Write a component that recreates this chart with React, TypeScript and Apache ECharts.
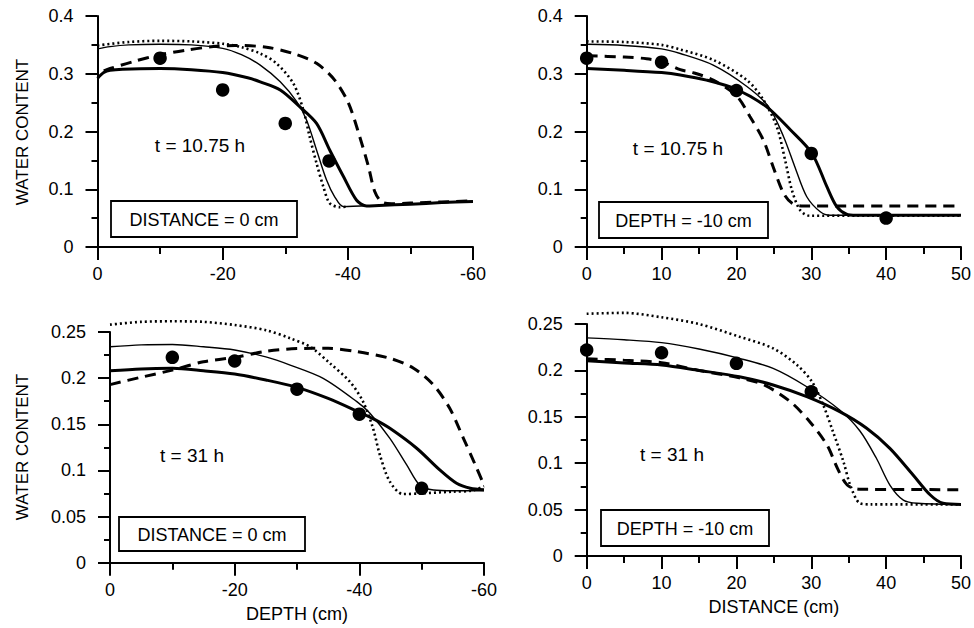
import React, { useEffect, useRef } from "react";
import * as echarts from "echarts";

// ---------- DATA ----------
// Panel 1: t = 10.75 h, DISTANCE = 0 cm (x = depth, cm)
const p1Obs = [[-10, 0.327], [-20, 0.272], [-30, 0.214], [-37, 0.149]];
const p1Thick = [[0, 0.292], [-1, 0.302], [-2, 0.306], [-4, 0.308], [-10, 0.309], [-15, 0.307], [-20, 0.302], [-24, 0.293], [-26, 0.286], [-29.2, 0.272], [-32.3, 0.243], [-35, 0.214], [-37.1, 0.168], [-39.3, 0.122], [-41.4, 0.081], [-43, 0.071], [-45, 0.072], [-50, 0.074], [-55, 0.077], [-60, 0.079]];
const p1Thin = [[0, 0.343], [-2, 0.347], [-5, 0.35], [-10, 0.351], [-15, 0.35], [-20, 0.344], [-23, 0.333], [-26, 0.315], [-29.2, 0.286], [-31.8, 0.252], [-33.4, 0.22], [-35, 0.168], [-36.6, 0.116], [-37.9, 0.087], [-39.3, 0.07], [-45, 0.072], [-50, 0.074], [-55, 0.077], [-60, 0.079]];
const p1Dotted = [[0, 0.349], [-5, 0.355], [-10, 0.357], [-15, 0.356], [-20, 0.352], [-23, 0.346], [-26, 0.335], [-28.6, 0.318], [-31.3, 0.283], [-32.9, 0.237], [-33.9, 0.191], [-35, 0.145], [-36.1, 0.104], [-37.1, 0.076], [-38.7, 0.069], [-40, 0.07]];
const p1Dashed = [[-1, 0.305], [-2, 0.309], [-5.7, 0.321], [-10, 0.333], [-14.2, 0.341], [-18.5, 0.347], [-22, 0.349], [-27, 0.346], [-31.3, 0.335], [-35, 0.318], [-37.9, 0.289], [-40.1, 0.249], [-41.9, 0.191], [-43.3, 0.139], [-44.3, 0.096], [-45.4, 0.078], [-47, 0.075], [-50, 0.076], [-55, 0.078], [-60, 0.08]];

// Panel 2: t = 10.75 h, DEPTH = -10 cm (x = distance, cm)
const p2Obs = [[0, 0.327], [10, 0.32], [20, 0.271], [30, 0.162], [40, 0.05]];
const p2Thick = [[0, 0.309], [5, 0.306], [10, 0.302], [12.5, 0.298], [16, 0.289], [20, 0.273], [24, 0.243], [27.2, 0.203], [30.1, 0.162], [32.1, 0.104], [33.4, 0.07], [34.7, 0.057], [36, 0.055], [50, 0.055]];
const p2Thin = [[0, 0.351], [5, 0.349], [10, 0.343], [12.5, 0.335], [16.9, 0.315], [21.4, 0.278], [24.3, 0.243], [26.3, 0.191], [27.8, 0.139], [29.4, 0.087], [31.2, 0.061], [32.5, 0.055], [50, 0.055]];
const p2Dotted = [[0, 0.356], [5, 0.355], [10, 0.35], [12.5, 0.342], [16.9, 0.324], [21.4, 0.289], [23.6, 0.255], [25.4, 0.208], [26.5, 0.151], [27.4, 0.099], [28.5, 0.064], [29.8, 0.054], [36, 0.054], [50, 0.054]];
const p2Dashed = [[0, 0.331], [5, 0.329], [8, 0.326], [10, 0.321], [12.5, 0.307], [14.2, 0.302], [16.9, 0.289], [20, 0.262], [21.8, 0.226], [23.6, 0.185], [24.9, 0.139], [26.3, 0.093], [27.4, 0.076], [28.9, 0.071], [50, 0.071]];

// Panel 3: t = 31 h, DISTANCE = 0 cm
const p3Obs = [[-10, 0.2226], [-20, 0.2186], [-30, 0.188], [-40, 0.161], [-50, 0.0806]];
const p3Thick = [[0, 0.208], [-5, 0.21], [-10, 0.2106], [-15, 0.208], [-20, 0.2045], [-25, 0.198], [-30, 0.19], [-35, 0.178], [-40, 0.163], [-42.5, 0.155], [-44.9, 0.1456], [-49.2, 0.124], [-52.9, 0.1005], [-55.6, 0.086], [-57.8, 0.0806], [-60, 0.079]];
const p3Thin = [[0, 0.234], [-5, 0.236], [-10, 0.2365], [-15, 0.234], [-20, 0.2305], [-25, 0.223], [-28.9, 0.2142], [-34.2, 0.1998], [-39.6, 0.1745], [-41.7, 0.162], [-44.9, 0.1348], [-47.6, 0.106], [-49.7, 0.084], [-51.9, 0.0788], [-55, 0.078], [-60, 0.078]];
const p3Dotted = [[0, 0.258], [-5, 0.261], [-10, 0.2616], [-15, 0.261], [-20, 0.2576], [-25, 0.252], [-28.9, 0.2432], [-32.1, 0.234], [-35.3, 0.216], [-38.5, 0.196], [-40.6, 0.1745], [-42.2, 0.1456], [-43.3, 0.1167], [-44.9, 0.0878], [-47, 0.0744], [-49.7, 0.075], [-55, 0.077], [-58, 0.078], [-60, 0.083]];
const p3Dashed = [[0, 0.193], [-5, 0.201], [-10, 0.2087], [-15, 0.2178], [-20, 0.2225], [-25, 0.229], [-30, 0.232], [-35, 0.2323], [-39.6, 0.2287], [-44.9, 0.2215], [-48.7, 0.2107], [-51.9, 0.1926], [-54.5, 0.1673], [-56.7, 0.1348], [-58.6, 0.106], [-60, 0.084]];

// Panel 4: t = 31 h, DEPTH = -10 cm
const p4Obs = [[0, 0.222], [10, 0.219], [20, 0.2076], [30, 0.177]];
const p4Thick = [[0, 0.2105], [5, 0.208], [10, 0.2058], [15, 0.2], [20.4, 0.1932], [24.9, 0.1843], [29.4, 0.1717], [33.8, 0.1555], [37.4, 0.1376], [40.5, 0.116], [43.6, 0.0873], [45.9, 0.0657], [47.6, 0.0568], [50, 0.0556]];
const p4Thin = [[0, 0.235], [5, 0.233], [10, 0.2299], [15, 0.223], [20.4, 0.213], [24.9, 0.2022], [29.4, 0.1824], [33.8, 0.1573], [36.5, 0.1347], [38.7, 0.1053], [40.5, 0.0765], [42.3, 0.0603], [44.2, 0.0568], [50, 0.0556]];
const p4Dotted = [[0, 0.261], [5, 0.262], [10, 0.2572], [15, 0.25], [20.4, 0.2363], [24.9, 0.2238], [28.1, 0.2058], [30.1, 0.1878], [31.6, 0.1627], [32.9, 0.134], [34.3, 0.1016], [35.2, 0.0765], [36.5, 0.0568], [38, 0.0556], [50, 0.0556]];
const p4Dashed = [[0, 0.2125], [5, 0.211], [10, 0.2083], [15, 0.2], [20.4, 0.192], [23.7, 0.1843], [27.2, 0.1663], [29.8, 0.1447], [32.1, 0.1196], [33.5, 0.0945], [34.8, 0.0765], [36.5, 0.0719], [50, 0.0715]];

const timeLabels = ["t = 10.75 h", "t = 10.75 h", "t = 31 h", "t = 31 h"];
const boxLabels = ["DISTANCE = 0 cm", "DEPTH = -10 cm", "DISTANCE = 0 cm", "DEPTH = -10 cm"];
const yTitle = "WATER CONTENT";
const xTitles = ["", "", "DEPTH (cm)", "DISTANCE (cm)"];

// ---------- CHART ----------
const FONT = '"Liberation Sans", Arial, Helvetica, sans-serif';

const grids = [
  { left: 97.5, top: 16, width: 375.5, height: 231 },
  { left: 586.7, top: 16, width: 374.3, height: 231 },
  { left: 110, top: 332, width: 374, height: 230.7 },
  { left: 586.7, top: 324, width: 374.3, height: 232 },
];

const fmt = (v: number) => String(+v.toFixed(3));

const axisLineStyle = { color: "#000000", width: 2, opacity: 1, type: "solid" };

function xAxis(i: number, min: number, max: number, interval: number, inverse: boolean) {
  return {
    type: "value",
    gridIndex: i,
    min,
    max,
    interval,
    inverse,
    name: xTitles[i],
    nameLocation: "middle",
    nameGap: 42,
    nameTextStyle: { color: "#000", fontSize: 18, fontFamily: FONT },
    axisLine: { show: true, onZero: false, lineStyle: axisLineStyle },
    axisTick: { show: true, inside: false, length: 13, lineStyle: axisLineStyle },
    minorTick: { show: true, splitNumber: 2, length: 7, lineStyle: axisLineStyle },
    splitLine: { show: false },
    minorSplitLine: { show: false },
    axisLabel: { color: "#000", fontSize: 18, fontFamily: FONT, margin: 18, formatter: fmt },
  };
}

function yAxis(i: number, max: number, interval: number) {
  return {
    type: "value",
    gridIndex: i,
    min: 0,
    max,
    interval,
    axisLine: { show: true, onZero: false, lineStyle: axisLineStyle },
    axisTick: { show: true, inside: false, length: 12, lineStyle: axisLineStyle },
    minorTick: { show: true, splitNumber: 2, length: 6, lineStyle: axisLineStyle },
    splitLine: { show: false },
    minorSplitLine: { show: false },
    axisLabel: { color: "#000", fontSize: 18, fontFamily: FONT, margin: 24, formatter: fmt },
  };
}

function panelSeries(i: number, thick: number[][], thin: number[][], dotted: number[][], dashed: number[][], obs: number[][]) {
  const base = { type: "line", xAxisIndex: i, yAxisIndex: i, showSymbol: false, symbol: "none", smooth: 0.3, silent: true, clip: false };
  return [
    { ...base, name: "dashed" + i, data: dashed, lineStyle: { color: "#000", width: 3, type: [11, 7] } },
    { ...base, name: "dotted" + i, data: dotted, lineStyle: { color: "#000", width: 2.6, type: [2, 3] } },
    { ...base, name: "thin" + i, data: thin, lineStyle: { color: "#000", width: 1.4, type: "solid" } },
    { ...base, name: "thick" + i, data: thick, lineStyle: { color: "#000", width: 3, type: "solid" } },
    { type: "scatter", name: "obs" + i, xAxisIndex: i, yAxisIndex: i, data: obs, symbol: "circle", symbolSize: 13.5, itemStyle: { color: "#000", opacity: 1 }, z: 5 },
  ];
}

const timePos = [[200, 145], [678, 148], [192, 455], [672, 454]];
const boxRects = [[111, 201, 186, 36], [599, 202, 169, 36], [119, 517, 186, 34], [601, 510, 168, 36]];

function textEl(text: string, x: number, y: number, size: number, rotation = 0) {
  return {
    type: "text",
    x,
    y,
    rotation,
    z: 100,
    style: {
      text,
      fill: "#000",
      fontSize: size,
      fontFamily: FONT,
      align: "center",
      verticalAlign: "middle",
      textAlign: "center",
      textVerticalAlign: "middle",
    },
  };
}

export default function App() {
  const ref = useRef<HTMLDivElement>(null);
  useEffect(() => {
    if (!ref.current) return;
    const chart = echarts.init(ref.current, undefined, { renderer: "svg" });
    const graphic: any[] = [];
    boxRects.forEach((r, i) => {
      graphic.push({
        type: "rect",
        z: 99,
        shape: { x: r[0], y: r[1], width: r[2], height: r[3] },
        style: { fill: "#fff", stroke: "#000", lineWidth: 1.8 },
      });
      graphic.push(textEl(boxLabels[i], r[0] + r[2] / 2, r[1] + r[3] / 2 + 1, 18));
    });
    timePos.forEach((p, i) => graphic.push(textEl(timeLabels[i], p[0], p[1], 19)));
    graphic.push(textEl(yTitle, 22, 132, 17, Math.PI / 2));
    graphic.push(textEl(yTitle, 22, 447, 17, Math.PI / 2));

    chart.setOption({
      animation: false,
      backgroundColor: "#fff",
      grid: grids.map((g) => ({ ...g, containLabel: false })),
      xAxis: [
        xAxis(0, -60, 0, 20, true),
        xAxis(1, 0, 50, 10, false),
        xAxis(2, -60, 0, 20, true),
        xAxis(3, 0, 50, 10, false),
      ],
      yAxis: [yAxis(0, 0.4, 0.1), yAxis(1, 0.4, 0.1), yAxis(2, 0.25, 0.05), yAxis(3, 0.25, 0.05)],
      series: [
        ...panelSeries(0, p1Thick, p1Thin, p1Dotted, p1Dashed, p1Obs),
        ...panelSeries(1, p2Thick, p2Thin, p2Dotted, p2Dashed, p2Obs),
        ...panelSeries(2, p3Thick, p3Thin, p3Dotted, p3Dashed, p3Obs),
        ...panelSeries(3, p4Thick, p4Thin, p4Dotted, p4Dashed, p4Obs),
      ],
      graphic,
    });
    return () => chart.dispose();
  }, []);
  return <div ref={ref} style={{ position: "fixed", left: 0, top: 0, width: 974, height: 628 }} />;
}
